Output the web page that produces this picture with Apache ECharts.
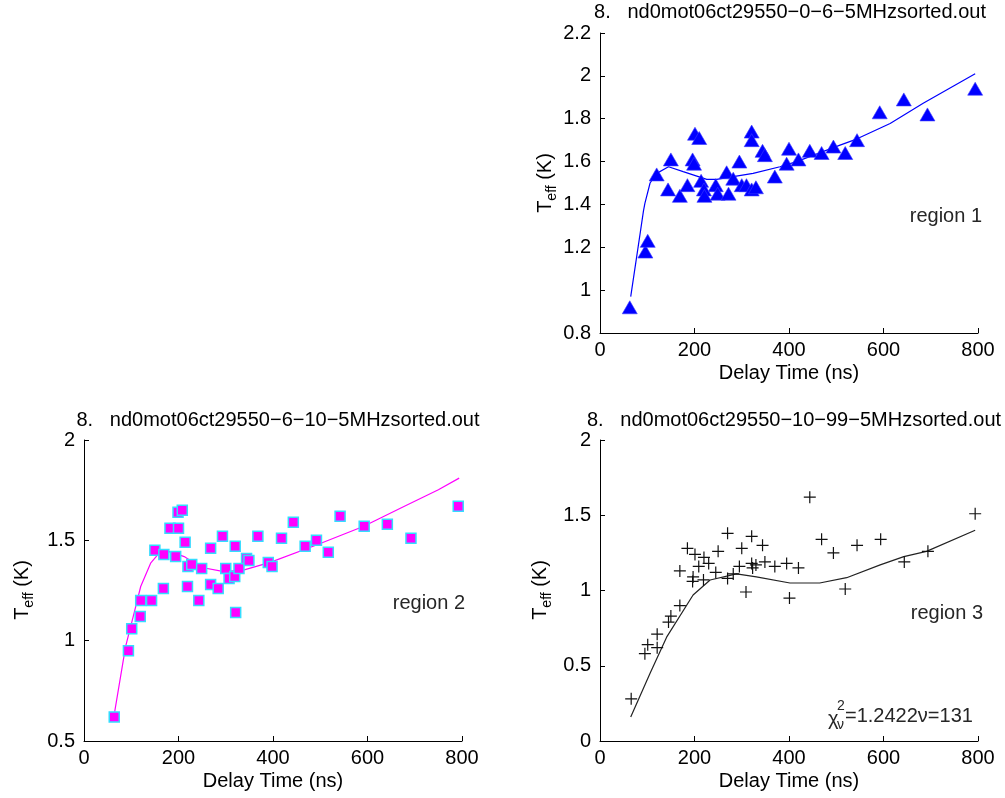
<!DOCTYPE html>
<html>
<head>
<meta charset="utf-8">
<script src="https://cdn.jsdelivr.net/npm/echarts@6/dist/echarts.min.js"></script>
<style>
html,body{margin:0;padding:0;background:#fff;}
#chart{width:1005px;height:798px;}
</style>
</head>
<body>
<div id="chart"></div>
<script>
// ---- Data ----
const xTicks = [0, 200, 400, 600, 800];

// region 1 (blue triangles)
const delay1 = [63, 96, 101, 120, 144, 150, 169, 185, 196, 199, 201, 210, 214, 220, 221, 245, 249, 268, 272, 282, 295, 300, 310, 321, 321, 321, 330, 344, 349, 370, 395, 400, 420, 444, 469, 494, 519, 544, 592, 643, 693, 794];
const teff1  = [0.92, 1.18, 1.23, 1.54, 1.47, 1.61, 1.44, 1.49, 1.61, 1.59, 1.73, 1.71, 1.51, 1.47, 1.44, 1.49, 1.45, 1.55, 1.45, 1.52, 1.60, 1.49, 1.49, 1.74, 1.70, 1.47, 1.48, 1.65, 1.63, 1.53, 1.59, 1.66, 1.61, 1.65, 1.64, 1.67, 1.64, 1.70, 1.83, 1.89, 1.82, 1.94];
const fitDelay1 = [65, 86, 92, 95, 106, 120, 145, 176, 226, 247, 282, 324, 381, 416, 508, 543, 614, 684, 794];
const fitTeff1  = [0.97, 1.28, 1.37, 1.405, 1.50, 1.545, 1.576, 1.553, 1.517, 1.517, 1.53, 1.545, 1.576, 1.60, 1.677, 1.705, 1.778, 1.872, 2.01];

// region 2 (magenta squares)
const delay2 = [64, 94, 101, 119, 120, 143, 150, 168, 169, 182, 200, 199, 208, 194, 214, 219, 220, 228, 243, 249, 268, 268, 284, 293, 300, 307, 319, 320, 321, 328, 344, 349, 368, 390, 398, 418, 443, 468, 492, 517, 542, 593, 642, 692, 792];
const teff2  = [0.62, 0.95, 1.06, 1.12, 1.20, 1.20, 1.45, 1.26, 1.43, 1.56, 1.56, 1.64, 1.65, 1.42, 1.49, 1.27, 1.37, 1.38, 1.20, 1.36, 1.46, 1.28, 1.26, 1.52, 1.36, 1.31, 1.32, 1.47, 1.14, 1.36, 1.41, 1.40, 1.52, 1.39, 1.37, 1.51, 1.59, 1.47, 1.50, 1.44, 1.62, 1.57, 1.58, 1.51, 1.67];
const fitDelay2 = [65, 88, 106, 120, 141, 159, 183, 212, 247, 296, 339, 394, 492, 591, 676, 750, 794];
const fitTeff2  = [0.646, 0.97, 1.137, 1.27, 1.386, 1.436, 1.444, 1.419, 1.366, 1.344, 1.353, 1.39, 1.477, 1.569, 1.667, 1.752, 1.81];

// region 3 (black crosses)
const delay3 = [66, 95, 101, 121, 121, 145, 150, 169, 169, 185, 201, 197, 196, 209, 220, 219, 230, 245, 250, 270, 270, 282, 295, 300, 309, 321, 321, 323, 330, 344, 349, 370, 395, 401, 420, 444, 469, 494, 519, 544, 594, 644, 694, 794];
const teff3  = [0.28, 0.58, 0.64, 0.71, 0.62, 0.79, 0.83, 0.90, 1.13, 1.28, 1.24, 1.09, 1.06, 1.16, 1.22, 1.07, 1.18, 1.12, 1.26, 1.38, 1.08, 1.11, 1.16, 1.28, 0.99, 1.36, 1.18, 1.15, 1.17, 1.30, 1.19, 1.16, 1.18, 0.95, 1.15, 1.62, 1.34, 1.25, 1.01, 1.30, 1.34, 1.19, 1.26, 1.51];
const fitDelay3 = [65, 106, 141, 197, 233, 289, 331, 402, 465, 522, 593, 643, 691, 794];
const fitTeff3  = [0.16, 0.45, 0.69, 0.97, 1.07, 1.11, 1.09, 1.05, 1.05, 1.085, 1.17, 1.225, 1.26, 1.40];

const titles = [
  '8.   nd0mot06ct29550\u22120\u22126\u22125MHzsorted.out',
  '8.   nd0mot06ct29550\u22126\u221210\u22125MHzsorted.out',
  '8.   nd0mot06ct29550\u221210\u221299\u22125MHzsorted.out'
];
const regionLabels = ['region 1', 'region 2', 'region 3'];
const xName = 'Delay Time (ns)';

// ---- helpers ----
const FONT = 'Liberation Sans, Arial, Helvetica, sans-serif';
const zip = (a, b) => a.map((v, i) => [v, b[i]]);

const grids = [
  {left: 600, top: 33, width: 378, height: 300},
  {left: 84, top: 440, width: 378, height: 301},
  {left: 600, top: 440, width: 378, height: 301}
];
const yRanges = [[0.8, 2.2, 0.2], [0.5, 2, 0.5], [0, 2, 0.5]];

function xAxis(i) {
  return {
    gridIndex: i, type: 'value', min: xTicks[0], max: xTicks[xTicks.length - 1],
    interval: xTicks[1] - xTicks[0],
    axisLine: {show: true, onZero: false, lineStyle: {color: '#000', width: 1}},
    axisTick: {show: true, inside: true, length: 5, lineStyle: {color: '#000'}},
    axisLabel: {color: '#000', fontSize: 20, fontFamily: FONT, margin: 7, hideOverlap: false},
    splitLine: {show: false},
    name: xName, nameLocation: 'middle', nameGap: 30,
    nameTextStyle: {color: '#000', fontSize: 20, fontFamily: FONT}
  };
}
function yAxis(i) {
  const r = yRanges[i];
  return {
    gridIndex: i, type: 'value', min: r[0], max: r[1], interval: r[2],
    axisLine: {show: true, onZero: false, lineStyle: {color: '#000', width: 1}},
    axisTick: {show: true, inside: true, length: 5, lineStyle: {color: '#000'}},
    axisLabel: {color: '#000', fontSize: 20, fontFamily: FONT, margin: 9, hideOverlap: false},
    splitLine: {show: false}
  };
}

function txt(x, y, text, opts) {
  opts = opts || {};
  const fs = opts.size || 20;
  return {
    type: 'text', x: x, y: y, rotation: opts.rotation || 0, silent: true,
    style: {
      text: text,
      font: fs + 'px ' + FONT,
      fill: opts.color || '#000',
      textAlign: opts.align || 'center',
      textVerticalAlign: opts.valign || 'middle',
      rich: opts.rich
    }
  };
}

const teffRich = {
  a: {fontSize: 20, fontFamily: FONT, color: '#000', lineHeight: 28, verticalAlign: 'middle'},
  b: {fontSize: 14, fontFamily: FONT, color: '#000', lineHeight: 28, verticalAlign: 'bottom'}
};
const teffText = '{a|T}{b|eff}{a| (K)}';

const plusPath = 'path://M0,50L100,50M50,0L50,100';

const option = {
  animation: false,
  backgroundColor: '#fff',
  grid: grids,
  xAxis: [xAxis(0), xAxis(1), xAxis(2)],
  yAxis: [yAxis(0), yAxis(1), yAxis(2)],
  series: [
    {type: 'line', xAxisIndex: 0, yAxisIndex: 0, data: zip(fitDelay1, fitTeff1), showSymbol: false,
     lineStyle: {color: '#0000ff', width: 1.2}, z: 2},
    {type: 'scatter', xAxisIndex: 0, yAxisIndex: 0, data: zip(delay1, teff1), symbol: 'triangle',
     symbolSize: [15, 13], itemStyle: {color: '#0000ff', borderColor: '#3b3bff', borderWidth: 0.6, opacity: 1}, z: 3},

    {type: 'line', xAxisIndex: 1, yAxisIndex: 1, data: zip(fitDelay2, fitTeff2), showSymbol: false,
     lineStyle: {color: '#ff00ff', width: 1.2}, z: 2},
    {type: 'scatter', xAxisIndex: 1, yAxisIndex: 1, data: zip(delay2, teff2), symbol: 'rect',
     symbolSize: 10, itemStyle: {color: '#ff00ff', borderColor: '#33ddff', borderWidth: 1.5, opacity: 1}, z: 3},

    {type: 'line', xAxisIndex: 2, yAxisIndex: 2, data: zip(fitDelay3, fitTeff3), showSymbol: false,
     lineStyle: {color: '#222', width: 1.2}, z: 2},
    {type: 'scatter', xAxisIndex: 2, yAxisIndex: 2, data: zip(delay3, teff3), symbol: plusPath,
     symbolSize: 12, itemStyle: {color: 'rgba(0,0,0,0)', borderColor: '#111', borderWidth: 1.2, opacity: 1}, z: 3}
  ],
  graphic: [
    txt(790, 12, titles[0]),
    txt(278, 420, titles[1]),
    txt(794, 420, titles[2]),
    txt(545, 183, teffText, {rotation: Math.PI / 2, rich: teffRich}),
    txt(22, 590, teffText, {rotation: Math.PI / 2, rich: teffRich}),
    txt(540, 590, teffText, {rotation: Math.PI / 2, rich: teffRich}),
    txt(982, 216, regionLabels[0], {align: 'right', color: '#262626'}),
    txt(465, 603, regionLabels[1], {align: 'right', color: '#262626'}),
    txt(983, 613, regionLabels[2], {align: 'right', color: '#262626'}),
    txt(828, 719, '\u03c7', {align: 'left', color: '#262626'}),
    txt(837, 706, '2', {align: 'left', size: 14, color: '#262626'}),
    txt(837, 725, '\u03bd', {align: 'left', size: 14, color: '#262626'}),
    txt(845, 716, '=1.2422\u03bd=131', {align: 'left', color: '#262626'})
  ]
};

const chart = echarts.init(document.getElementById('chart'), null, {renderer: 'canvas'});
chart.setOption(option);
</script>
</body>
</html>
